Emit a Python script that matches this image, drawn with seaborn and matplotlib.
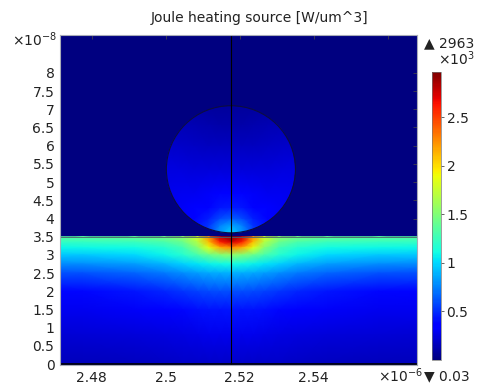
import numpy as np
import matplotlib
matplotlib.use("Agg")
import matplotlib.pyplot as plt
from matplotlib.patches import Ellipse
from matplotlib.colors import Normalize
import seaborn as sns

sns.set_style("white")
plt.rcParams['font.family'] = ['DejaVu Sans']

# ---------------- data ----------------
title = "Joule heating source [W/um^3]"
vmin, vmax = 0.03, 2963.0
outside_value = 0.03

# geometry (axis units: x in 1e-6 m, y in 1e-8 m)
x_line = 2.5176
substrate_top = 3.5
particle_center_y = 5.353
particle_radius_nm = 17.45

# substrate field: lateral distance from centre line (nm) x depth below surface (nm)
sub_dx_nm = [0, 3, 6, 9, 13, 18, 26, 40, 56]
sub_depth_nm = [0, 1.5, 3, 5, 7.5, 10, 15, 20, 27, 35]
sub_values = [
    [2963, 2800, 2250, 1800, 1560, 1450, 1390, 1360, 1350],
    [2750, 2600, 2100, 1680, 1420, 1300, 1240, 1220, 1210],
    [2250, 2150, 1850, 1520, 1280, 1170, 1110, 1090, 1080],
    [1550, 1500, 1420, 1300, 1180, 1080, 1000, 960, 950],
    [1100, 1090, 1070, 1040, 980, 900, 830, 780, 770],
    [880, 875, 860, 830, 780, 720, 660, 610, 600],
    [600, 595, 580, 560, 525, 480, 430, 390, 380],
    [430, 427, 420, 410, 390, 360, 320, 295, 290],
    [285, 283, 280, 275, 265, 250, 235, 220, 216],
    [195, 194, 192, 190, 186, 180, 172, 162, 160],
]

# particle field: lateral distance (nm) x height above particle bottom (nm)
part_dx_nm = [0, 3, 6, 10, 14, 18]
part_h_nm = [0, 2, 4, 7, 11, 17.5, 24, 30, 35]
part_values = [
    [980, 820, 560, 420, 380, 360],
    [860, 750, 530, 400, 360, 340],
    [640, 580, 460, 370, 340, 320],
    [450, 430, 380, 330, 310, 300],
    [330, 325, 315, 300, 290, 285],
    [240, 240, 240, 240, 245, 250],
    [170, 170, 172, 178, 190, 200],
    [110, 112, 118, 130, 145, 160],
    [70, 72, 80, 95, 110, 130],
]

x_ticks = [2.48, 2.50, 2.52, 2.54, 2.56]
x_ticklabels = ["2.48", "2.5", "2.52", "2.54", ""]
y_ticks = [0, 0.5, 1, 1.5, 2, 2.5, 3, 3.5, 4, 4.5, 5, 5.5, 6, 6.5, 7, 7.5, 8]
y_ticklabels = ["0", "0.5", "1", "1.5", "2", "2.5", "3", "3.5", "4", "4.5",
                "5", "5.5", "6", "6.5", "7", "7.5", "8"]
cbar_ticks = [500, 1000, 1500, 2000, 2500]
cbar_ticklabels = ["0.5", "1", "1.5", "2", "2.5"]

xlim = (2.4714, 2.5679)
ylim = (-0.03, 9.04)

# ---------------- figure ----------------
fig = plt.figure(figsize=(4.78, 3.85), dpi=100)
ax = fig.add_axes([60 / 478, 1 - 365.3 / 385, 357 / 478, 330.3 / 385])
cmap = plt.get_cmap("jet")
norm = Normalize(vmin=vmin, vmax=vmax)
ax.set_facecolor(cmap(norm(outside_value)))


def mirrored(dx_list, vals):
    dx = np.asarray(dx_list, float)
    v = np.asarray(vals, float)
    full_dx = np.concatenate([-dx[:0:-1], dx])
    full_v = np.concatenate([v[:, :0:-1], v], axis=1)
    return full_dx, full_v


# substrate
dx, sv = mirrored(sub_dx_nm, sub_values)
X, D = np.meshgrid(x_line + dx / 1000.0, np.asarray(sub_depth_nm, float))
Y = substrate_top - D / 10.0
ax.pcolormesh(X, Y, sv, shading="gouraud", cmap=cmap, norm=norm, zorder=1)

# particle
pdx, pv = mirrored(part_dx_nm, part_values)
p_bottom = particle_center_y - particle_radius_nm / 10.0
PX, PH = np.meshgrid(x_line + pdx / 1000.0, np.asarray(part_h_nm, float))
PY = p_bottom + PH / 10.0
ell_clip = Ellipse((x_line, particle_center_y), 2 * particle_radius_nm / 1000.0,
                   2 * particle_radius_nm / 10.0, transform=ax.transData)
pm = ax.pcolormesh(PX, PY, pv, shading="gouraud", cmap=cmap, norm=norm, zorder=1)
pm.set_clip_path(ell_clip)
ax.add_patch(Ellipse((x_line, particle_center_y), 2 * particle_radius_nm / 1000.0,
                     2 * particle_radius_nm / 10.0, facecolor="none",
                     edgecolor=(0.05, 0.05, 0.25), lw=0.8, zorder=3))

# boundary lines
ax.axhline(substrate_top, color=(0.3, 0.38, 0.42), lw=0.6, zorder=3)
ax.axhline(0, color="black", lw=1.2, zorder=3)
ax.axvline(x_line, color="black", lw=0.8, zorder=4)

ax.set_xlim(*xlim)
ax.set_ylim(*ylim)
ax.set_xticks(x_ticks)
ax.set_xticklabels(x_ticklabels)
ax.set_yticks(y_ticks)
ax.set_yticklabels(y_ticklabels)
ax.tick_params(axis="both", which="both", direction="in", length=3, width=0.6,
               color=(0.25, 0.25, 0.3), top=True, right=True, labelsize=10,
               labelcolor="#222222", pad=4)
for sp in ax.spines.values():
    sp.set_color("#a8acb8")
    sp.set_linewidth(0.8)
    sp.set_zorder(5)

fig.text(259.5 / 478, 1 - 18 / 385, title, fontsize=10, color="#222222",
         ha="center", va="center")

fig.text(12 / 478, 1 - 40 / 385, r"$\times10^{-8}$", fontsize=10, va="center",
         ha="left", color="#222222")
fig.text(378 / 478, 1 - 376 / 385, r"$\times10^{-6}$", fontsize=10, va="center",
         ha="left", color="#222222")

# colorbar
cax = fig.add_axes([432.3 / 478, 1 - 360 / 385, 8.7 / 478, 288 / 385])
sm = matplotlib.cm.ScalarMappable(norm=norm, cmap=cmap)
cb = fig.colorbar(sm, cax=cax)
cb.set_ticks(cbar_ticks)
cb.set_ticklabels(cbar_ticklabels)
cb.ax.tick_params(labelsize=10, length=2, width=0.5, direction="out",
                  labelcolor="#222222", pad=2)
cb.outline.set_linewidth(0.5)
cb.outline.set_edgecolor("#777777")

fig.text(424 / 478, 1 - 43 / 385, "\u25B2 " + "2963", fontsize=10, va="center",
         ha="left", color="#222222")
fig.text(438 / 478, 1 - 59 / 385, r"$\times10^{3}$", fontsize=10, va="center",
         ha="left", color="#222222")
fig.text(424 / 478, 1 - 376 / 385, "\u25BC " + "0.03", fontsize=10, va="center",
         ha="left", color="#222222")

fig.savefig("out.png", dpi=100)
